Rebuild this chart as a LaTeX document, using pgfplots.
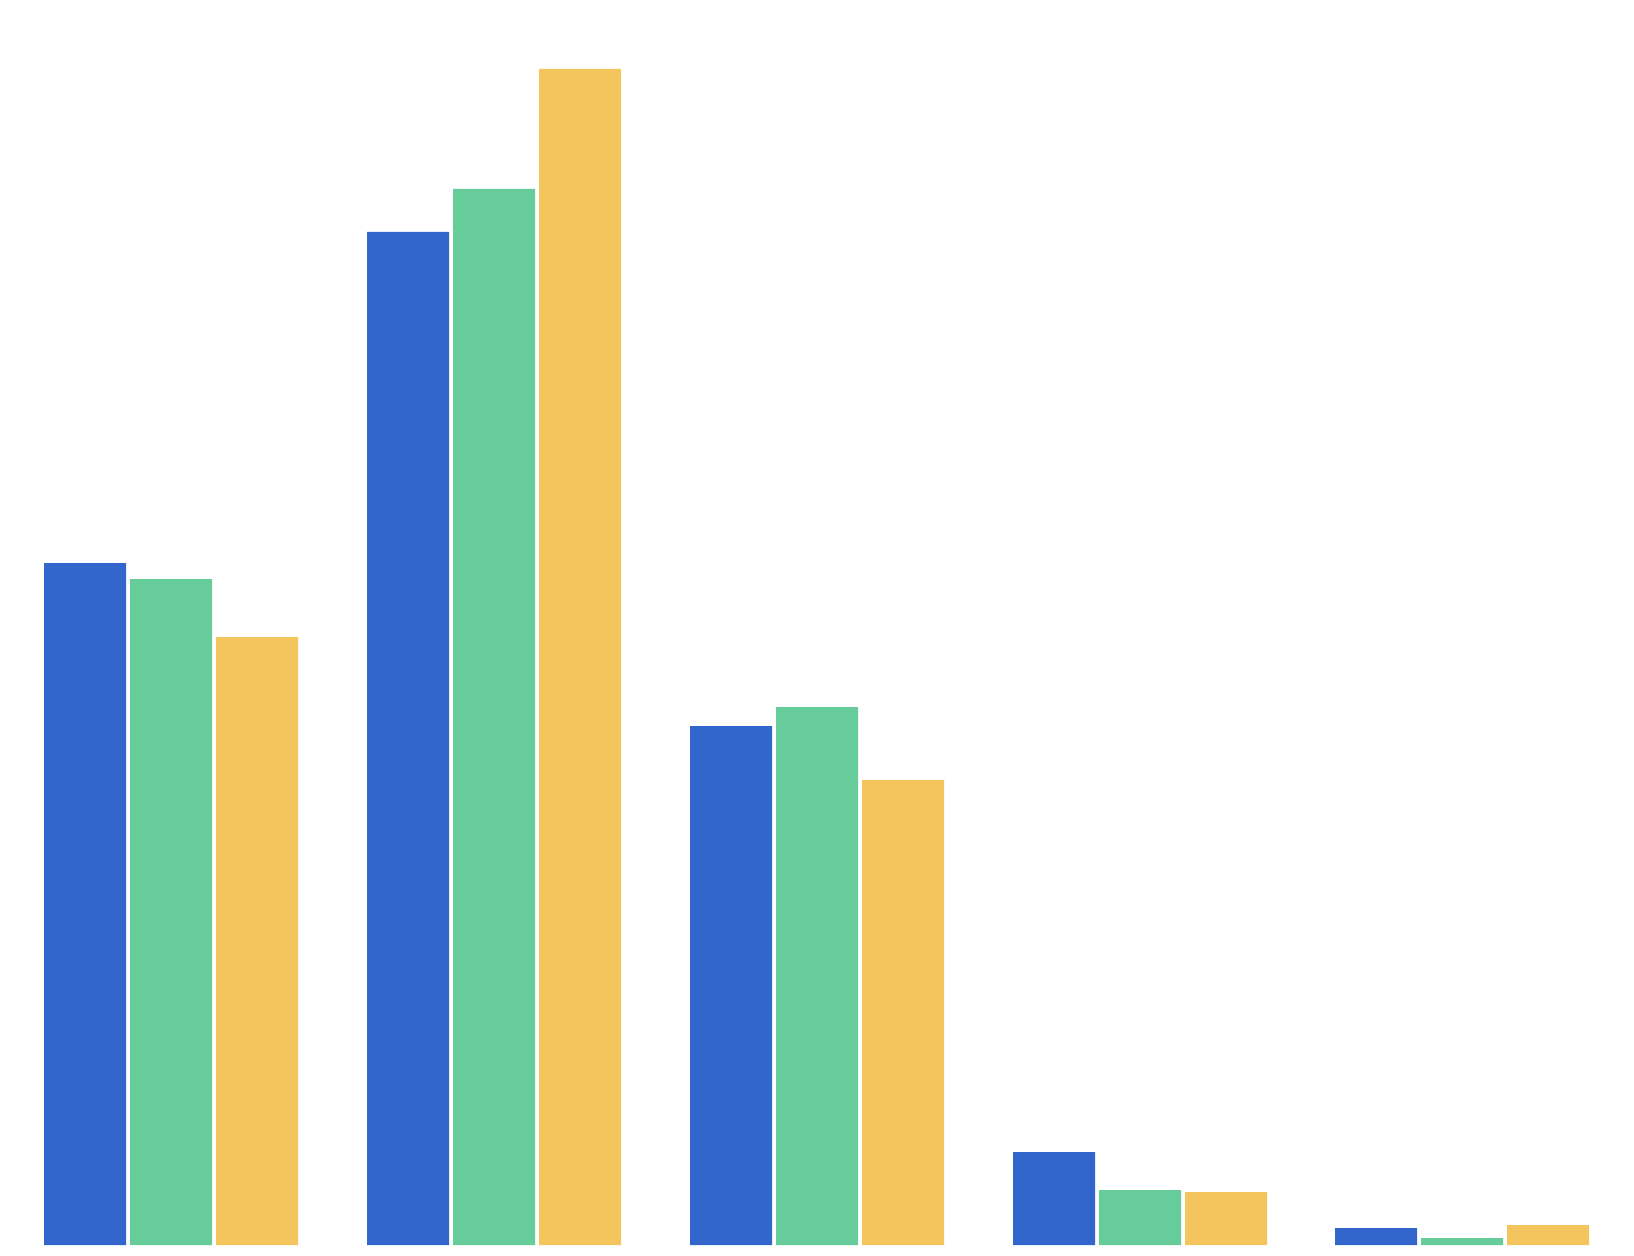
\documentclass[border=0pt]{standalone}
\usepackage{pgfplots}
\pgfplotsset{compat=1.18}
\definecolor{sblue}{HTML}{3366CC}
\definecolor{sgreen}{HTML}{66CC99}
\definecolor{syellow}{HTML}{F4C45D}
\begin{document}
\begin{tikzpicture}
\begin{axis}[
  hide axis,
  scale only axis,
  width=408.5pt, height=313.75pt,
  xmin=0, xmax=1634,
  ymin=-10, ymax=1245,
  enlargelimits=false,
  ybar, bar width=82, bar shift=0pt,
  clip=false]
\addplot[fill=sblue, draw=none] coordinates {(85,682) (408,1013) (731,519) (1054,93) (1376,17)};
\addplot[fill=sgreen, draw=none] coordinates {(171,666) (494,1056) (817,538) (1140,55) (1462,7)};
\addplot[fill=syellow, draw=none] coordinates {(257,608) (580,1176) (903,465) (1226,53) (1548,20)};
\path (rel axis cs:0,0) rectangle (rel axis cs:1,1);
\end{axis}
\end{tikzpicture}
\end{document}
